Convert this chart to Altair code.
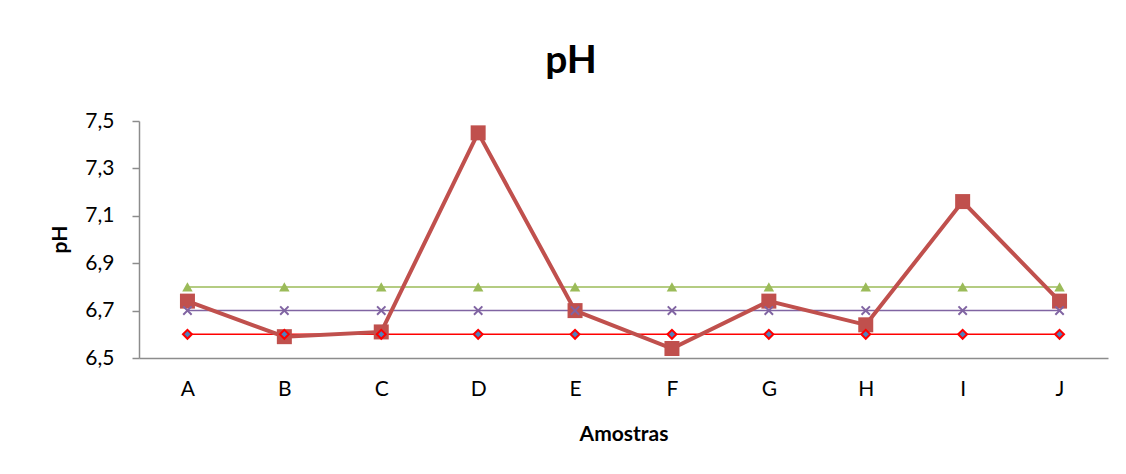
import altair as alt
import pandas as pd

categories = ["A", "B", "C", "D", "E", "F", "G", "H", "I", "J"]
amostra = [6.74, 6.59, 6.61, 7.45, 6.70, 6.54, 6.74, 6.64, 7.16, 6.74]
limite_sup = [6.8, 6.8, 6.8, 6.8, 6.8, 6.8, 6.8, 6.8, 6.8, 6.8]
limite_med = [6.7, 6.7, 6.7, 6.7, 6.7, 6.7, 6.7, 6.7, 6.7, 6.7]
limite_inf = [6.6, 6.6, 6.6, 6.6, 6.6, 6.6, 6.6, 6.6, 6.6, 6.6]
y_ticks = [6.5, 6.7, 6.9, 7.1, 7.3, 7.5]

FONT = "Lato"
W, H = 969, 237

main = pd.DataFrame({"cat": categories, "v": amostra})
sup = pd.DataFrame({"cat": categories, "v": limite_sup})
med = pd.DataFrame({"cat": categories, "v": limite_med})
inf = pd.DataFrame({"cat": categories, "v": limite_inf})

x_enc = alt.X("cat:N", sort=categories,
              scale=alt.Scale(type="point", padding=0.5),
              axis=alt.Axis(title="Amostras", labelAngle=0, ticks=False,
                            labelPadding=20, labelFontSize=21, labelFont=FONT,
                            labelColor="#000000",
                            titleFont=FONT, titleFontSize=21, titleFontWeight="bold",
                            titleColor="#000000", titleBaseline="alphabetic",
                            titleY=82, domainColor="#8c8c8c", domainWidth=1.5,
                            grid=False))
y_enc = alt.Y("v:Q", scale=alt.Scale(domain=[6.5, 7.5], nice=False, zero=False),
              axis=alt.Axis(title="pH", values=y_ticks,
                            labelExpr="replace(format(datum.value, '.1f'), '.', ',')",
                            labelFontSize=21, labelFont=FONT, labelColor="#000000",
                            labelPadding=18, tickSize=7, tickColor="#8c8c8c",
                            tickWidth=1.5, domainColor="#8c8c8c", domainWidth=1.5,
                            titleFont=FONT, titleFontSize=21, titleFontWeight="bold",
                            titleColor="#000000", titleAngle=270,
                            titleAlign="center", titleBaseline="middle",
                            titleX=-79, titleY=118, grid=False))

def ref_line(df, color):
    return alt.Chart(df).mark_line(color=color, strokeWidth=1.5).encode(x=x_enc, y=y_enc)

line_sup = ref_line(sup, "#9bbb59")
line_med = ref_line(med, "#8064a2")
line_inf = ref_line(inf, "#ff0000")

main_line = alt.Chart(main).mark_line(color="#c0504d", strokeWidth=4).encode(x=x_enc, y=y_enc)
main_pts = alt.Chart(main).mark_point(shape="square", filled=True, size=225,
                                      color="#c0504d", opacity=1).encode(x=x_enc, y=y_enc)

pts_sup = alt.Chart(sup).mark_point(shape="triangle-up", filled=True, size=110,
                                    color="#9bbb59", opacity=1).encode(x=x_enc, y=y_enc)
pts_med = alt.Chart(med).mark_point(shape="M-1,-1L1,1M-1,1L1,-1", filled=False, size=70,
                                    stroke="#8064a2", strokeWidth=2, opacity=1).encode(x=x_enc, y=y_enc)
pts_inf = alt.Chart(inf).mark_point(shape="diamond", filled=True, size=80,
                                    fill="#4f81bd", stroke="#ff0000", strokeWidth=2,
                                    opacity=1).encode(x=x_enc, y=y_enc)

title_df = pd.DataFrame({"t": ["pH"]})
title = alt.Chart(title_df).mark_text(font=FONT, fontSize=39, fontWeight="bold",
                                      baseline="alphabetic", align="center",
                                      color="#000000").encode(
    text="t:N", x=alt.value(432), y=alt.value(-48))

chart = alt.layer(
    title,
    line_sup, line_med, line_inf,
    main_line, main_pts,
    pts_sup, pts_med, pts_inf,
).properties(
    width=W, height=H,
    autosize=alt.AutoSizeParams(type="none"),
    padding={"left": 131, "top": 113, "right": 10, "bottom": 108},
).configure_view(stroke="transparent")

chart.save("out.html", embed_options={"renderer": "svg", "actions": False})
